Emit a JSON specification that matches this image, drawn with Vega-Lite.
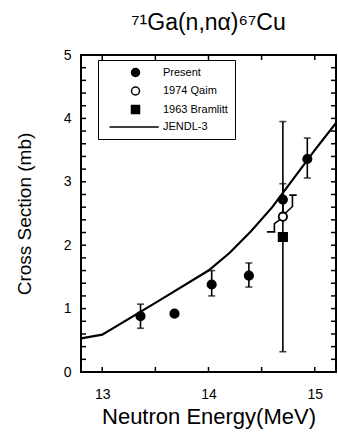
{
  "$schema": "https://vega.github.io/schema/vega-lite/v6.json",
  "width": 255,
  "height": 317,
  "autosize": "none",
  "padding": {"left": 81, "top": 55, "right": 2, "bottom": 60},
  "background": "white",
  "config": {
    "font": "Liberation Sans",
    "view": {"stroke": "black", "strokeWidth": 2},
    "axis": {"grid": false, "domain": false, "ticks": false, "tickSize": 0, "zindex": 1, "labelColor": "black", "titleColor": "black", "labelFont": "Liberation Sans", "titleFont": "Liberation Sans", "titleFontWeight": "normal"},
    "legend": {"labelFont": "Liberation Sans"}
  },
  "title": {"text": "\u2077\u00b9Ga(n,n\u03b1)\u2076\u2077Cu", "fontSize": 23, "fontWeight": "normal", "font": "Liberation Sans", "color": "black", "offset": 13},
  "datasets": {
    "jendl": [
      {"E": 12.8, "cs": 0.53},
      {"E": 13.0, "cs": 0.59},
      {"E": 13.5, "cs": 1.09},
      {"E": 14.0, "cs": 1.6},
      {"E": 14.2, "cs": 1.88},
      {"E": 14.4, "cs": 2.22},
      {"E": 14.6, "cs": 2.6},
      {"E": 14.8, "cs": 3.05},
      {"E": 15.0, "cs": 3.5},
      {"E": 15.2, "cs": 3.93}
    ],
    "pts": [
      {"E": 13.36, "cs": 0.88, "lo": 0.69, "hi": 1.07, "src": "Present"},
      {"E": 13.68, "cs": 0.92, "src": "Present"},
      {"E": 14.03, "cs": 1.38, "lo": 1.2, "hi": 1.6, "src": "Present"},
      {"E": 14.38, "cs": 1.52, "lo": 1.34, "hi": 1.72, "src": "Present"},
      {"E": 14.7, "cs": 2.72, "lo": 2.45, "hi": 2.97, "src": "Present"},
      {"E": 14.93, "cs": 3.36, "lo": 3.06, "hi": 3.69, "src": "Present"},
      {"E": 14.7, "cs": 2.13, "lo": 0.32, "hi": 3.95, "src": "1963 Bramlitt"},
      {"E": 14.7, "cs": 2.45, "src": "1974 Qaim"}
    ],
    "qpath": [
      {"seg": "lower", "ord": 1, "E": 14.68, "cs": 2.41},
      {"seg": "lower", "ord": 2, "E": 14.62, "cs": 2.34},
      {"seg": "lower", "ord": 3, "E": 14.62, "cs": 2.21},
      {"seg": "lower", "ord": 4, "E": 14.55, "cs": 2.21},
      {"seg": "lower", "ord": 5, "E": 14.63, "cs": 2.21},
      {"seg": "upper", "ord": 1, "E": 14.72, "cs": 2.5},
      {"seg": "upper", "ord": 2, "E": 14.79, "cs": 2.61},
      {"seg": "upper", "ord": 3, "E": 14.79, "cs": 2.79},
      {"seg": "upper", "ord": 4, "E": 14.76, "cs": 2.79},
      {"seg": "upper", "ord": 5, "E": 14.83, "cs": 2.79}
    ],
    "xticks": [{"v": 13}, {"v": 13.5}, {"v": 14}, {"v": 14.5}, {"v": 15}],
    "yticks": [{"v": 0.2}, {"v": 0.4}, {"v": 0.6}, {"v": 0.8}, {"v": 1}, {"v": 1.2}, {"v": 1.4}, {"v": 1.6}, {"v": 1.8}, {"v": 2}, {"v": 2.2}, {"v": 2.4}, {"v": 2.6}, {"v": 2.8}, {"v": 3}, {"v": 3.2}, {"v": 3.4}, {"v": 3.6}, {"v": 3.8}, {"v": 4}, {"v": 4.2}, {"v": 4.4}, {"v": 4.6}, {"v": 4.8}]
  },
  "layer": [
    {
      "data": {"name": "jendl"},
      "mark": {"type": "line", "color": "black", "strokeWidth": 2.2, "clip": true},
      "encoding": {
        "x": {"field": "E", "type": "quantitative", "scale": {"domain": [12.8, 15.2], "nice": false, "zero": false},
          "axis": {"values": [13, 13.5, 14, 14.5, 15], "labelExpr": "datum.value % 1 === 0 ? format(datum.value, 'd') : ''", "labelPadding": 15, "labelFontSize": 14, "title": "Neutron Energy(MeV)", "titleFontSize": 22, "titlePadding": 5}},
        "y": {"field": "cs", "type": "quantitative", "scale": {"domain": [0, 5], "nice": false, "zero": false},
          "axis": {"values": [0,0.2,0.4,0.6,0.8,1,1.2,1.4,1.6,1.8,2,2.2,2.4,2.6,2.8,3,3.2,3.4,3.6,3.8,4,4.2,4.4,4.6,4.8,5], "labelExpr": "abs(datum.value - round(datum.value)) < 0.001 ? format(datum.value, 'd') : ''", "labelPadding": 10, "labelFontSize": 14, "title": "Cross Section (mb)", "titleFontSize": 19, "titlePadding": 29}}
      }
    },
    {
      "data": {"name": "xticks"},
      "mark": {"type": "tick", "orient": "vertical", "size": 10, "thickness": 1.5, "color": "black", "clip": true, "opacity": 1},
      "encoding": {
        "x": {"field": "v", "type": "quantitative", "axis": null},
        "y": {"datum": 0, "type": "quantitative", "axis": null}
      }
    },
    {
      "data": {"name": "xticks"},
      "mark": {"type": "tick", "orient": "vertical", "size": 10, "thickness": 1.5, "color": "black", "clip": true, "opacity": 1},
      "encoding": {
        "x": {"field": "v", "type": "quantitative", "axis": null},
        "y": {"datum": 5, "type": "quantitative", "axis": null}
      }
    },
    {
      "data": {"name": "yticks"},
      "mark": {"type": "tick", "orient": "horizontal", "size": 10, "thickness": 1.5, "color": "black", "clip": true, "opacity": 1},
      "encoding": {
        "y": {"field": "v", "type": "quantitative", "axis": null},
        "x": {"datum": 12.8, "type": "quantitative", "axis": null}
      }
    },
    {
      "data": {"name": "yticks"},
      "mark": {"type": "tick", "orient": "horizontal", "size": 10, "thickness": 1.5, "color": "black", "clip": true, "opacity": 1},
      "encoding": {
        "y": {"field": "v", "type": "quantitative", "axis": null},
        "x": {"datum": 15.2, "type": "quantitative", "axis": null}
      }
    },
    {
      "data": {"name": "pts"},
      "transform": [{"filter": "isValid(datum.lo)"}],
      "mark": {"type": "errorbar", "ticks": true, "color": "black", "thickness": 1.6, "size": 7},
      "encoding": {
        "x": {"field": "E", "type": "quantitative", "axis": null},
        "y": {"field": "lo", "type": "quantitative", "axis": null},
        "y2": {"field": "hi"}
      }
    },
    {
      "data": {"name": "qpath"},
      "mark": {"type": "line", "color": "black", "strokeWidth": 1.6},
      "encoding": {
        "x": {"field": "E", "type": "quantitative", "axis": null},
        "y": {"field": "cs", "type": "quantitative", "axis": null},
        "detail": {"field": "seg"},
        "order": {"field": "ord"}
      }
    },
    {
      "data": {"name": "pts"},
      "mark": {"type": "point", "filled": true, "size": 70, "stroke": "black", "strokeWidth": 1.8, "opacity": 1},
      "encoding": {
        "x": {"field": "E", "type": "quantitative", "axis": null},
        "y": {"field": "cs", "type": "quantitative", "axis": null},
        "shape": {"field": "src", "type": "nominal", "scale": {"domain": ["Present", "1974 Qaim", "1963 Bramlitt", "JENDL-3"], "range": ["circle", "circle", "square", "M-6.5,0H5.8"]},
          "legend": {"title": null, "orient": "none", "legendX": 17, "legendY": 5, "padding": 7, "strokeColor": "black", "fillColor": "white", "symbolOffset": 25, "labelOffset": 22, "labelFontSize": 11, "labelColor": "black", "symbolSize": 64, "rowPadding": 3.5, "cornerRadius": 0,
            "encode": {"symbols": {"update": {"stroke": {"value": "black"}, "strokeWidth": {"value": 1.8}, "opacity": {"value": 1}}}}}},
        "fill": {"field": "src", "type": "nominal", "scale": {"domain": ["Present", "1974 Qaim", "1963 Bramlitt", "JENDL-3"], "range": ["black", "white", "black", "black"]},
          "legend": {"title": null, "orient": "none", "legendX": 17, "legendY": 5, "padding": 7, "strokeColor": "black", "fillColor": "white", "symbolOffset": 25, "labelOffset": 22, "labelFontSize": 11, "labelColor": "black", "symbolSize": 64, "rowPadding": 3.5, "cornerRadius": 0,
            "encode": {"symbols": {"update": {"stroke": {"value": "black"}, "strokeWidth": {"value": 1.8}, "opacity": {"value": 1}}}}}}
      }
    }
  ],
  "resolve": {"axis": {"x": "independent", "y": "independent"}}
}
